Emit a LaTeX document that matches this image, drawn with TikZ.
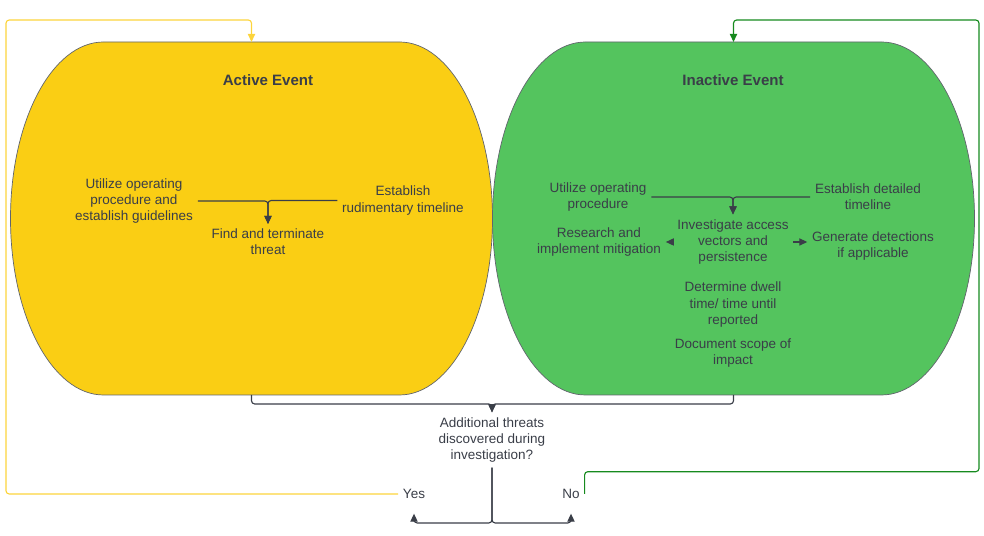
\documentclass[tikz,border=0pt]{standalone}
\usepackage{fontspec}
\setmainfont{Liberation Sans}
\usetikzlibrary{arrows.meta}
\definecolor{evyellow}{RGB}{250,206,20}
\definecolor{evgreen}{RGB}{84,196,94}
\definecolor{evtext}{RGB}{58,62,72}
\definecolor{loopyellow}{RGB}{252,212,60}
\definecolor{loopgreen}{RGB}{22,138,30}

\begin{document}
\begin{tikzpicture}[x=0.25mm, y=0.25mm,
    every node/.style={text=evtext, align=center, font=\fontsize{9.6}{11.6}\selectfont},
    title/.style={font=\fontsize{10.7}{13}\selectfont\bfseries},
    arr/.style={draw=evtext, line width=0.8pt, rounded corners=0.8mm, -{Triangle[length=2mm,width=1.8mm]}},
    event/.style={draw=evtext!80, line width=0.5pt}]
        \useasboundingbox (0,0) rectangle (984,536);
        % the two events
        \foreach \cx/\col/\nm in {251.5/evyellow/act, 733.5/evgreen/inact} {
          \draw[event, fill=\col] (\cx-148,494) -- (\cx+148,494)
            arc[start angle=90, end angle=-90, x radius=93, y radius=176.5]
            -- (\cx-148,141)
            arc[start angle=270, end angle=90, x radius=93, y radius=176.5] -- cycle;
          \coordinate (\nm-top) at (\cx,494);
          \coordinate (\nm-bot) at (\cx,141);
        }
        \node[title] (acttitle) at (268,456) {Active Event};
        \node[title] (inacttitle) at (733,456) {Inactive Event};
        % active event
        \node (autil) at (134,335) {Utilize operating\\procedure and\\establish guidelines};
        \node (aest) at (403,335.5) {Establish\\rudimentary timeline};
        \node (afind) at (268,294) {Find and terminate\\threat};
        \draw[arr] (autil.east) -| (afind.north);
        \draw[arr] (aest.west) -| (afind.north);
        % inactive event
        \node (iutil) at (598,339) {Utilize operating\\procedure};
        \node (iest) at (868,339) {Establish detailed\\timeline};
        \node (iinv) at (733,294) {Investigate access\\vectors and\\persistence};
        \node (ires) at (599,294) {Research and\\implement mitigation};
        \node (igen) at (873,290) {Generate detections\\if applicable};
        \node (idwell) at (733,231.3) {Determine dwell\\time/ time until\\reported};
        \node (idoc) at (733,183) {Document scope of\\impact};
        \draw[arr] (iutil.east) -| (iinv.north);
        \draw[arr] (iest.west) -| (iinv.north);
        \draw[arr] (iinv.west) -- (ires.east);
        \draw[arr] (iinv.east) -- (iinv.east -| igen.west);
        % question
        \node (quest) at (492,96) {Additional threats\\discovered during\\investigation?};
        \node (yes) at (414,42) {Yes};
        \node (no) at (571,42) {No};
        \coordinate (split) at (492,13);
        \draw[arr] (act-bot) -- ++(0,-9) -| (quest.north);
        \draw[arr] (inact-bot) -- ++(0,-9) -| (quest.north);
        \draw[arr] (quest.south) -- (split) -| ([yshift=-2.5mm]yes.south);
        \draw[arr] (quest.south) -- (split) -| ([yshift=-2.5mm]no.south);
        % loops back
        \draw[loopyellow, line width=0.8pt, rounded corners=0.8mm, -{Triangle[length=2mm,width=1.8mm]}]
          (yes.west) -| (6,516) -| (act-top);
        \draw[loopgreen, line width=0.8pt, rounded corners=0.8mm, -{Triangle[length=2mm,width=1.8mm]}]
          (no.east) |- (979,64.3) |- (733.5,516) -- (inact-top);
      \end{tikzpicture}
\end{document}
